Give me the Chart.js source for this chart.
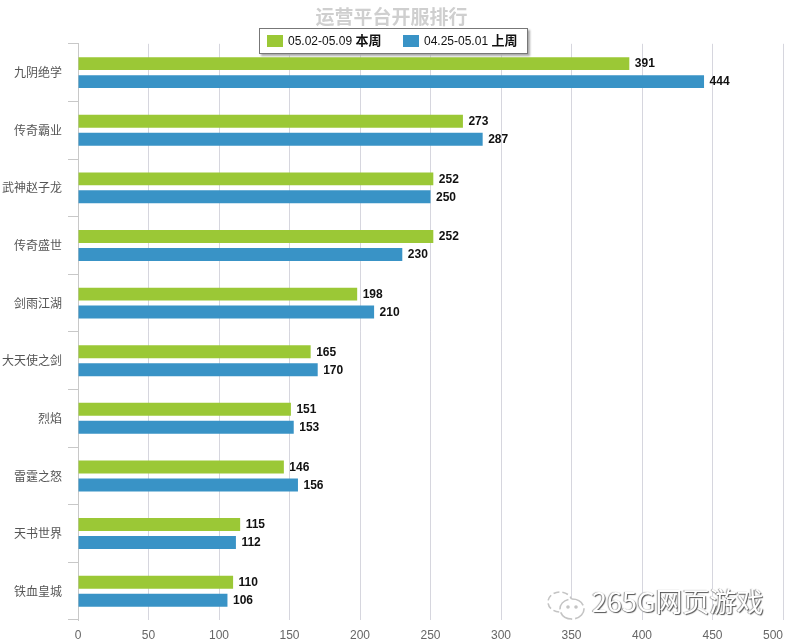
<!DOCTYPE html>
<html lang="zh">
<head>
<meta charset="utf-8">
<title>运营平台开服排行</title>
<script src="https://cdn.jsdelivr.net/npm/chart.js@4"></script>
<style>
  html, body { margin: 0; padding: 0; background: #fff; }
  #wrap { position: relative; width: 788px; height: 642px; overflow: hidden; }
  #legend {
    position: absolute; left: 259px; top: 28px; width: 267px; height: 24px;
    background: #fff; border: 1px solid #777; box-shadow: 2px 2px 2px #aaa;
    font: 12px "Liberation Sans", "Noto Sans CJK SC", sans-serif; color: #111;
  }
  #legend span { position: absolute; top: 5px; white-space: nowrap; }
  #legend b { font-family: "Noto Sans CJK SC", sans-serif; font-size: 13px; line-height: 12px; font-weight: 700; }
  #legend i { position: absolute; top: 6px; width: 16px; height: 12px; }
  #mark {
    position: absolute; left: 592px; top: 581px; white-space: nowrap;
    font: 27px "Noto Sans CJK SC", sans-serif; color: #fff;
    text-shadow: 1px 1px 1px #555, -1px 0 1px #999;
  }
  #icon { position: absolute; left: 546px; top: 590px; }
</style>
</head>
<body>
<div id="wrap">
  <canvas id="chart" width="788" height="642"></canvas>
  <div id="legend"></div>
  <svg id="icon" width="42" height="32" fill="#fff" stroke="#c4c4c4" stroke-width="1.6">
    <ellipse cx="14" cy="12" rx="12" ry="10" stroke-dasharray="6 3"/>
    <ellipse cx="26" cy="19" rx="12" ry="10" stroke-dasharray="14 3"/>
    <circle cx="22" cy="17" r="1" fill="#c4c4c4"/>
    <circle cx="30" cy="17" r="1" fill="#c4c4c4"/>
  </svg>
  <div id="mark">265G网页游戏</div>
</div>
<script>
const titleText = '运营平台开服排行';
const categories = ['九阴绝学', '传奇霸业', '武神赵子龙', '传奇盛世', '剑雨江湖', '大天使之剑', '烈焰', '雷霆之怒', '天书世界', '铁血皇城'];
const thisWeek = [391, 273, 252, 252, 198, 165, 151, 146, 115, 110];
const lastWeek = [444, 287, 250, 230, 210, 170, 153, 156, 112, 106];
const thisWeekLabel = ['05.02-05.09', '本周'];
const lastWeekLabel = ['04.25-05.01', '上周'];
const xTicks = [0, 50, 100, 150, 200, 250, 300, 350, 400, 450, 500];

const GREEN = '#9bc836';
const BLUE = '#3993c6';

// legend sits over the top of the plot, so it is a plain box over the canvas
function buildLegend() {
  const legend = document.getElementById('legend');
  legend.innerHTML = `
    <i style="left:7px;background:${GREEN}"></i>
    <span style="left:28px">${thisWeekLabel[0]} <b>${thisWeekLabel[1]}</b></span>
    <i style="left:143px;background:${BLUE}"></i>
    <span style="left:164px">${lastWeekLabel[0]} <b>${lastWeekLabel[1]}</b></span>
  `;
}

// value printed at the end of each bar
const barValues = {
  id: 'barValues',
  afterDatasetsDraw(chart) {
    const ctx = chart.ctx;
    ctx.save();
    ctx.font = 'bold 12px "Liberation Sans", sans-serif';
    ctx.fillStyle = '#111';
    ctx.textAlign = 'left';
    ctx.textBaseline = 'middle';
    chart.data.datasets.forEach((ds, i) => {
      chart.getDatasetMeta(i).data.forEach((bar, j) => {
        ctx.fillText(ds.data[j], bar.x + 5.5, bar.y + 0.5);
      });
    });
    ctx.restore();
  }
};

buildLegend();

new Chart(document.getElementById('chart'), {
  type: 'bar',
  data: {
    labels: categories,
    datasets: [
      { label: thisWeekLabel.join(' '), data: thisWeek, backgroundColor: GREEN },
      { label: lastWeekLabel.join(' '), data: lastWeek, backgroundColor: BLUE }
    ]
  },
  options: {
    indexAxis: 'y',
    responsive: false,
    animation: false,
    layout: { padding: { left: 0, right: 5, top: 0, bottom: 0 } },
    datasets: { bar: { categoryPercentage: 0.624, barPercentage: 0.72 } },
    plugins: {
      legend: { display: false },
      tooltip: { enabled: false },
      title: {
        display: true,
        text: titleText,
        color: '#cfcfcf',
        font: { family: '"Noto Sans CJK SC", sans-serif', size: 19, weight: 'bold' },
        padding: { top: 5, bottom: 16 }
      }
    },
    scales: {
      x: {
        min: 0,
        max: 500,
        afterBuildTicks(scale) { scale.ticks = xTicks.map(v => ({ value: v })); },
        afterFit(scale) {
          scale.height = 22;
          scale.paddingLeft = 0;
          scale.paddingRight = 0;
        },
        border: { display: false },
        grid: { color: '#d6d6de', lineWidth: 1, tickLength: 0 },
        ticks: {
          color: '#666',
          font: { family: '"Liberation Sans", sans-serif', size: 12 },
          padding: 8,
          maxRotation: 0,
          // last label stops at the plot edge instead of centring on it
          callback: v => (v === 500 ? v + '\u00a0\u00a0\u00a0\u00a0\u00a0\u00a0' : v)
        }
      },
      y: {
        afterFit(scale) { scale.width = 78; },
        border: { display: true, color: '#c8c8c8' },
        grid: { offset: true, drawOnChartArea: false, color: '#c8c8c8', tickLength: 10 },
        ticks: {
          color: '#555',
          font: { family: '"Noto Sans CJK SC", sans-serif', size: 12 },
          padding: 6
        }
      }
    }
  },
  plugins: [barValues]
});
</script>
</body>
</html>
